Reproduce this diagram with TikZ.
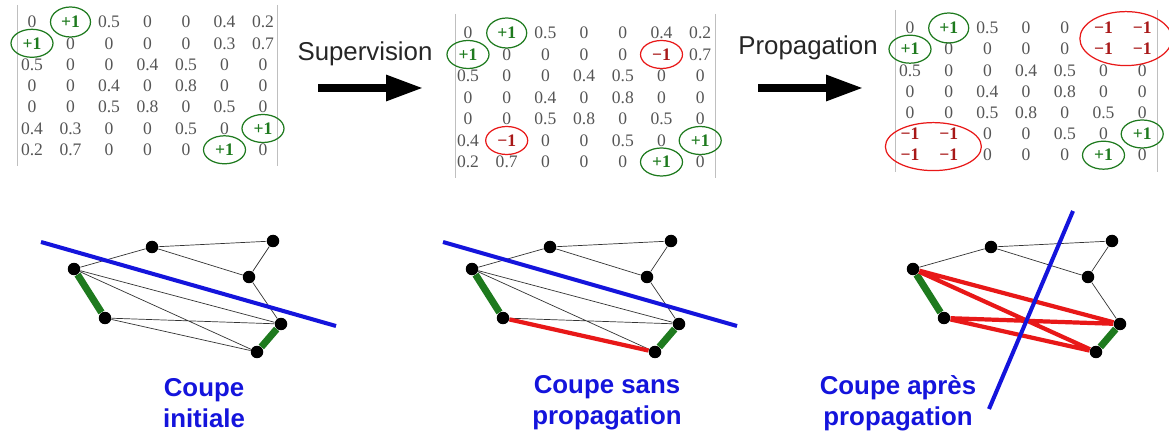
\documentclass[tikz,border=0pt]{standalone}
\usepackage{fontspec}
\setmainfont{Liberation Serif}
\setsansfont{Liberation Sans}
\usetikzlibrary{arrows.meta, calc, backgrounds}
\definecolor{cgreen}{HTML}{1E7A1E}
\definecolor{cred}{HTML}{E81818}
\definecolor{cdred}{HTML}{A81818}
\definecolor{cblue}{HTML}{1414DC}
\definecolor{cgrey}{HTML}{555555}
\tikzset{
  cell/.style={font=\fontsize{10}{12}\selectfont, text=cgrey, inner sep=1pt},
  bar/.style={draw=black!25, line width=0.5pt},
  okring/.style={draw=cgreen, line width=0.7pt},
  koring/.style={draw=cred, line width=0.7pt},
  vtx/.style={circle, fill=black, inner sep=0pt, minimum size=0.25cm},
  wire/.style={draw=black!80, line width=0.4pt},
  mustlink/.style={draw=cgreen, line width=4pt},
  cannotlink/.style={draw=cred, line width=2.4pt},
  cut/.style={draw=cblue, line width=2.3pt},
  bigarrow/.style={-{Triangle[length=21pt, width=14pt]}, line width=4pt},
  steptitle/.style={font=\sffamily\fontsize{14.7}{17}\selectfont, text=black!85},
  caption/.style={font=\sffamily\bfseries\fontsize{14.7}{17.5}\selectfont, text=cblue, align=center},
}
\newcommand{\pone}{\textcolor{cgreen}{\textbf{+1}}}
\newcommand{\mone}{\textcolor{cdred}{\textbf{−1}}}

\begin{document}
\begin{tikzpicture}[x=0.02cm, y=-0.02cm]
  \useasboundingbox (0,0) rectangle (1169,435);
  % matrices
  \foreach \row [count=\r] in {{0,\pone,0.5,0,0,0.4,0.2},{\pone,0,0,0,0,0.3,0.7},{0.5,0,0,0.4,0.5,0,0},{0,0,0.4,0,0.8,0,0},{0,0,0.5,0.8,0,0.5,0},{0.4,0.3,0,0,0.5,0,\pone},{0.2,0.7,0,0,0,\pone,0}}
    \foreach \v [count=\c] in \row
      \node[cell] (m1-\r-\c) at ({32+38.5*(\c-1)},{22+21.3*(\r-1)}) {\v};
  \foreach \row [count=\r] in {{0,\pone,0.5,0,0,0.4,0.2},{\pone,0,0,0,0,\mone,0.7},{0.5,0,0,0.4,0.5,0,0},{0,0,0.4,0,0.8,0,0},{0,0,0.5,0.8,0,0.5,0},{0.4,\mone,0,0,0.5,0,\pone},{0.2,0.7,0,0,0,\pone,0}}
    \foreach \v [count=\c] in \row
      \node[cell] (m2-\r-\c) at ({468+38.7*(\c-1)},{33+21.5*(\r-1)}) {\v};
  \foreach \row [count=\r] in {{0,\pone,0.5,0,0,\mone,\mone},{\pone,0,0,0,0,\mone,\mone},{0.5,0,0,0.4,0.5,0,0},{0,0,0.4,0,0.8,0,0},{0,0,0.5,0.8,0,0.5,0},{\mone,\mone,0,0,0.5,0,\pone},{\mone,\mone,0,0,0,\pone,0}}
    \foreach \v [count=\c] in \row
      \node[cell] (m3-\r-\c) at ({910+38.7*(\c-1)},{28+21.2*(\r-1)}) {\v};
  \draw[bar] (17,5) -- (17,166) (277,5) -- (277,166);
  \draw[bar] (455,14) -- (455,178) (715,14) -- (715,178);
  \draw[bar] (895,10) -- (895,172) (1157,10) -- (1157,172);
  \foreach \m in {1,2,3} {
    \draw[okring] (m\m-1-2) ellipse (20 and 15);
    \draw[okring] (m\m-2-1) ellipse (21 and 14);
    \draw[okring] (m\m-6-7) ellipse (21 and 14);
    \draw[okring] (m\m-7-6) ellipse (21 and 14);
  }
  \draw[koring] (m2-2-6) ellipse (21 and 14);
  \draw[koring] (m2-6-2) ellipse (21 and 14);
  \draw[koring] ($(m3-1-6)!0.5!(m3-2-7)$) ++(3,0) ellipse (46 and 27);
  \draw[koring] ($(m3-6-1)!0.5!(m3-7-2)$) ++(4,2) ellipse (48 and 24);

  % steps
  \node[steptitle] (sup) at (365,54) {Supervision};
  \node[steptitle] (prop) at (808,48) {Propagation};
  \coordinate (a1s) at (318,88);
  \coordinate (a1e) at (423,88);
  \coordinate (a2s) at (758,88);
  \coordinate (a2e) at (863,88);
  \draw[bigarrow] (a1s) -- (a1e);
  \draw[bigarrow] (a2s) -- (a2e);

  % graphs
  \foreach \g/\dx in {1/0,2/398,3/839} {
    \node[vtx] (g\g-a) at ({\dx+152},247) {};
    \node[vtx] (g\g-b) at ({\dx+273},241) {};
    \node[vtx] (g\g-c) at ({\dx+74},269) {};
    \node[vtx] (g\g-d) at ({\dx+249},277) {};
    \node[vtx] (g\g-e) at ({\dx+105},318) {};
    \node[vtx] (g\g-f) at ({\dx+281},324) {};
    \node[vtx] (g\g-g) at ({\dx+257},352) {};
  }
  \coordinate (c1s) at (41,242);
  \coordinate (c1e) at (336,326);
  \coordinate (c2s) at (443,242);
  \coordinate (c2e) at (737,326);
  \coordinate (c3s) at (1073,211);
  \coordinate (c3e) at (989,409);
  \begin{scope}[on background layer]
    \foreach \g in {1,2,3} {
      \draw[wire] (g\g-a) -- (g\g-b) -- (g\g-d) -- (g\g-a) -- (g\g-c);
      \draw[wire] (g\g-d) -- (g\g-f);
      \draw[mustlink] (g\g-c) -- (g\g-e) (g\g-f) -- (g\g-g);
    }
    \draw[wire] (g1-c) -- (g1-f) (g1-c) -- (g1-g) (g1-e) -- (g1-f) (g1-e) -- (g1-g);
    \draw[wire] (g2-c) -- (g2-f) (g2-c) -- (g2-g) (g2-e) -- (g2-f);
    \draw[cannotlink] (g2-e) -- (g2-g);
    \draw[cannotlink] (g3-c) -- (g3-f) (g3-c) -- (g3-g) (g3-e) -- (g3-f) (g3-e) -- (g3-g);
    \draw[cut] (c1s) -- (c1e);
    \draw[cut] (c2s) -- (c2e);
    \draw[cut] (c3s) -- (c3e);
  \end{scope}

  \node[caption] (lab1) at (204,403) {Coupe\\initiale};
  \node[caption] (lab2) at (607,403) {Coupe sans\\propagation};
  \node[caption] (lab3) at (898,403) {Coupe après\\propagation};
\end{tikzpicture}
\end{document}
